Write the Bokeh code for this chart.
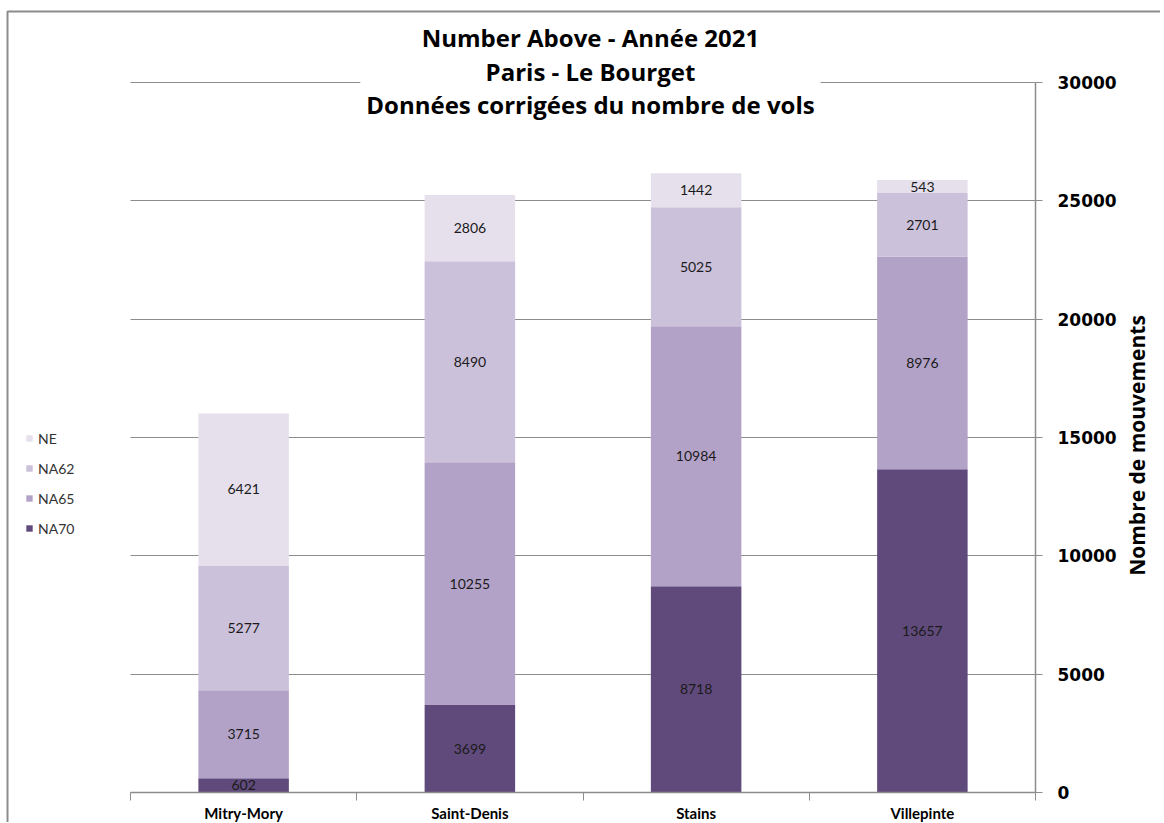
import math
import numpy as np
import pandas as pd
from bokeh.plotting import figure
from bokeh.models import (ColumnDataSource, Legend, LegendItem, Label, FixedTicker,
                          NumeralTickFormatter, Range1d, BoxAnnotation)
from bokeh.core.properties import value
from bokeh.embed import file_html
from bokeh.resources import INLINE

# ---- data ----
categories = ["Mitry-Mory", "Saint-Denis", "Stains", "Villepinte"]
series = ["NA70", "NA65", "NA62", "NE"]
na70 = [602, 3699, 8718, 13657]
na65 = [3715, 10255, 10984, 8976]
na62 = [5277, 8490, 5025, 2701]
ne = [6421, 2806, 1442, 543]
colors = ["#604A7B", "#B3A2C7", "#CCC1DA", "#E5E0EC"]
y_ticks = [0, 5000, 10000, 15000, 20000, 25000, 30000]

title_text = "Number Above - Année 2021\nParis - Le Bourget\nDonnées corrigées du nombre de vols"
y_label = "Nombre de mouvements"

n = len(categories)
centers = np.arange(n) + 0.5
df = pd.DataFrame({"x": centers, "NA70": na70, "NA65": na65, "NA62": na62, "NE": ne})
source = ColumnDataSource(df)

# the frame covers the whole figure; axes are fixed inside it
p = figure(
    x_range=Range1d(-0.5746, 4.5525), y_range=Range1d(-1268, 33465),
    width=1160, height=822,
    y_axis_location="right",
    output_backend="svg", toolbar_location=None,
    min_border_left=0, min_border_right=0, min_border_top=0, min_border_bottom=0,
)
p.outline_line_color = None
p.background_fill_color = "white"
p.border_fill_color = "white"

renderers = p.vbar_stack(series, x="x", width=0.40, color=colors, source=source,
                         line_color=None)

# segment labels
vals = np.array([na70, na65, na62, ne], dtype=float)
tops = np.cumsum(vals, axis=0)
mids = tops - vals / 2
lab_x, lab_y, lab_t = [], [], []
for s in range(len(series)):
    for c in range(n):
        lab_x.append(centers[c])
        lab_y.append(mids[s, c])
        lab_t.append(str(int(vals[s, c])))
p.text(x=lab_x, y=lab_y, text=lab_t, text_align="center", text_baseline="middle",
       text_font=value("Lato"), text_font_size="14px", text_color="#1a1a1a")

# legend on the left
items = [LegendItem(label=series[i], renderers=[renderers[i]]) for i in reversed(range(len(series)))]
legend = Legend(items=items, location=(25, 284))
legend.glyph_width = 8
legend.glyph_height = 8
legend.label_height = 20
legend.spacing = 10
legend.padding = 0
legend.margin = 0
legend.label_standoff = 5
legend.border_line_color = None
legend.background_fill_alpha = 0
legend.label_text_font = "Lato"
legend.label_text_font_size = "14px"
legend.label_text_color = "#333333"
p.add_layout(legend, "center")

# y axis (right of the bars)
yax = p.yaxis[0]
yax.fixed_location = n
yax.bounds = (0, 30000)
yax.ticker = FixedTicker(ticks=y_ticks)
yax.formatter = NumeralTickFormatter(format="0")
yax.axis_line_color = "#8c8c8c"
yax.axis_line_width = 1.5
yax.major_tick_line_color = "#8c8c8c"
yax.major_tick_in = 0
yax.major_tick_out = 7
yax.minor_tick_line_color = None
yax.major_label_standoff = 15
yax.major_label_text_font = "DejaVu Sans"
yax.major_label_text_font_style = "bold"
yax.major_label_text_font_size = "17px"
yax.major_label_text_color = "black"

p.add_layout(Label(x=4.4508, y=14662, text=y_label, angle=math.pi / 2,
                   text_align="center", text_baseline="middle",
                   text_font="Open Sans", text_font_style="bold", text_font_size="21px",
                   text_color="black"))

# x axis (at y = 0)
xax = p.xaxis[0]
xax.fixed_location = 0
xax.bounds = (0, n)
xax.ticker = FixedTicker(ticks=list(centers), minor_ticks=list(range(n + 1)))
xax.major_label_overrides = {float(centers[i]): categories[i] for i in range(n)}
xax.axis_line_color = "#8c8c8c"
xax.axis_line_width = 1.5
xax.major_tick_line_color = None
xax.major_tick_out = 0
xax.major_tick_in = 0
xax.minor_tick_line_color = "#8c8c8c"
xax.minor_tick_out = 8
xax.minor_tick_in = 0
xax.major_label_standoff = 4
xax.major_label_text_font = "Lato"
xax.major_label_text_font_style = "bold"
xax.major_label_text_font_size = "15px"
xax.major_label_text_color = "black"

p.xgrid.grid_line_color = None
ygrid = p.ygrid[0]
ygrid.ticker = FixedTicker(ticks=y_ticks)
ygrid.grid_line_color = "#8c8c8c"
ygrid.grid_line_width = 1.2
if "cross_bounds" in ygrid.properties():
    ygrid.cross_bounds = (0, n)

# title block (white box interrupts the top gridline)
title = Label(x=2.033, y=32852, x_units="data", y_units="data", text=title_text,
              text_align="center", text_baseline="top",
              text_font="Open Sans", text_font_style="bold", text_font_size="24px",
              text_color="black", text_line_height=1.02,
              background_fill_color="white", padding=6)
p.add_layout(title)

# chart-area border (top and left edges visible)
p.add_layout(BoxAnnotation(left=-0.5436, top=33000, right=10, bottom=-10000,
                           fill_alpha=0, line_color="#8c8c8c", line_alpha=1.0,
                           line_width=2))

open("out.html", "w").write(file_html(p, INLINE))
